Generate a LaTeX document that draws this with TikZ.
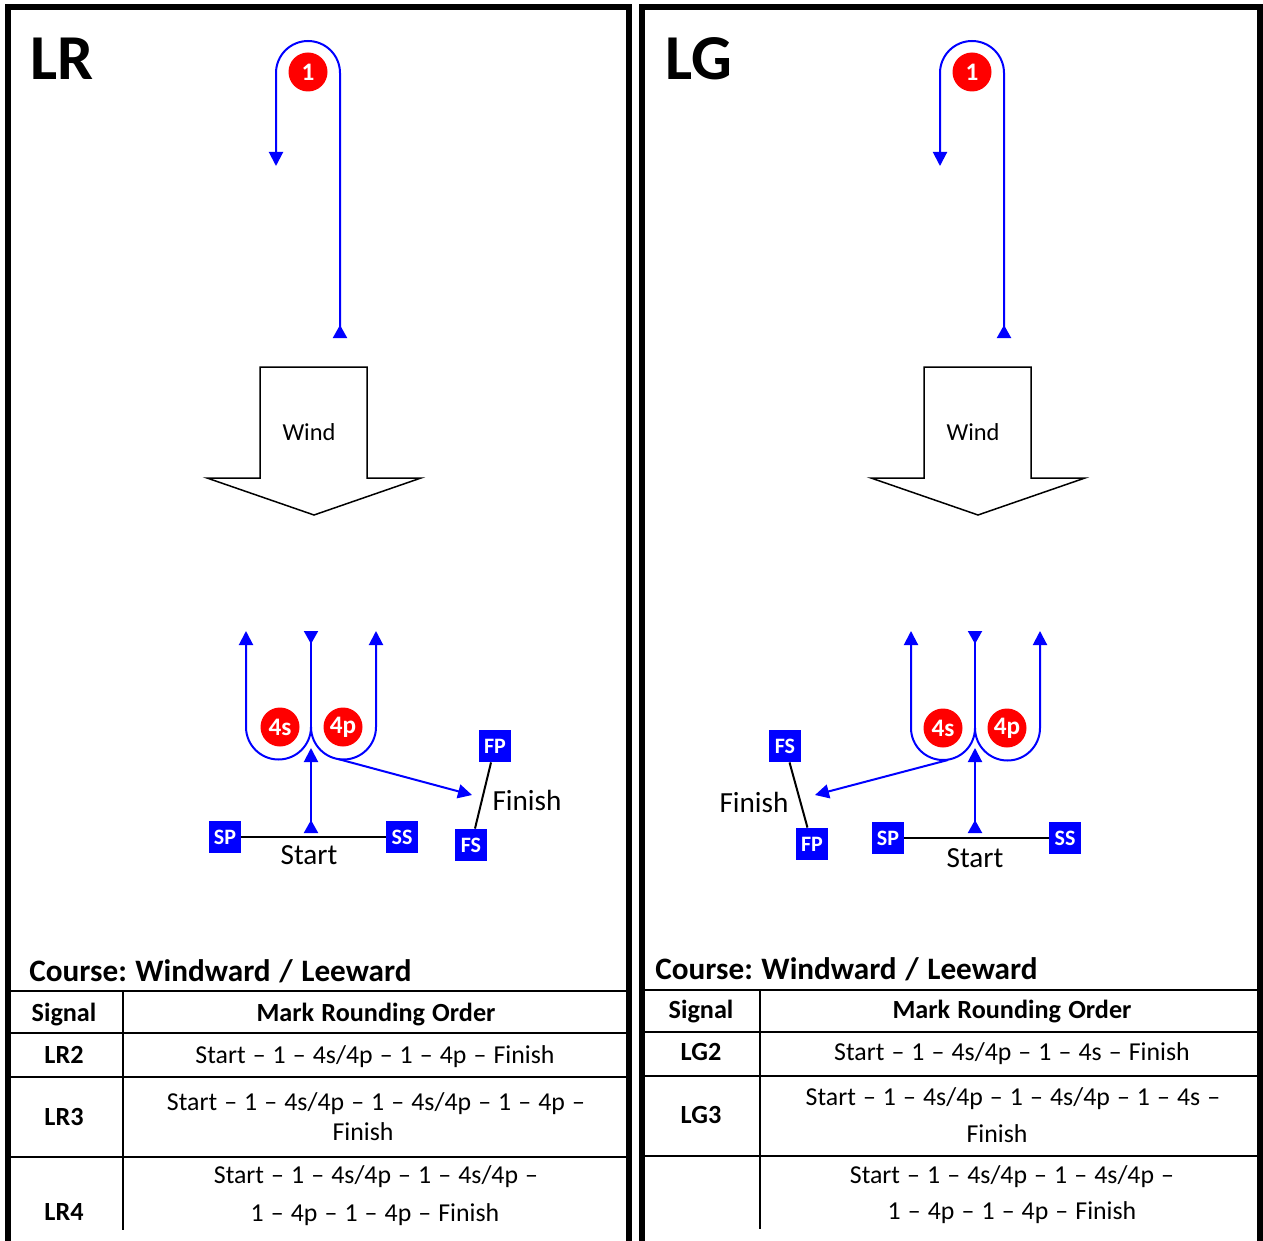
\documentclass[tikz,border=0pt]{standalone}
\usepackage{fontspec}
\setmainfont{Carlito}[WordSpace=1.22]
\frenchspacing
\usetikzlibrary{arrows.meta}
\usetikzlibrary{positioning}

\tikzset{
  buoy/.style={circle, fill=red, text=white, inner sep=0pt, minimum size=19.5pt, font=\bfseries\fontsize{12.6}{14}\selectfont},
  flag/.style={fill=blue, text=white, inner sep=0pt, minimum size=16pt, font=\bfseries\fontsize{11}{13}\selectfont},
  course/.style={blue, line width=1pt},
  tipend/.style={arrows=-{Triangle[width=7pt,length=7pt]}},
  tipstart/.style={arrows={Triangle[reversed,width=7pt,length=6.5pt]}-},
  tipboth/.style={arrows={Triangle[reversed,width=7pt,length=6.5pt]}-{Triangle[width=7pt,length=7pt]}},
  gate/.style={black, line width=1pt},
  frame/.style={black, line width=3pt},
  rule/.style={black, line width=1pt},
  title/.style={anchor=base west, inner sep=0pt, font=\bfseries\fontsize{32}{38}\selectfont},
  coursename/.style={anchor=base west, inner sep=0pt, font=\bfseries\fontsize{15.6}{18}\selectfont},
  head/.style={anchor=base, font=\bfseries\fontsize{13.1}{15}\selectfont},
  cell/.style={anchor=base, font=\fontsize{12.9}{15}\selectfont},
  label/.style={anchor=base, font=\fontsize{14.6}{17}\selectfont},
  windlabel/.style={anchor=base, font=\fontsize{12.2}{14}\selectfont},
  windarrow/.style={black, line width=0.75pt, fill=white}
}

\begin{document}
\begin{tikzpicture}[x=0.5pt, y=-0.5pt]
				\clip (0,0) rectangle (1263,1241);
				\fill[white] (0,0) rectangle (1263,1241);
				
				% panels
				\draw[frame] (8,1260) -- (8,7) -- (629,7) -- (629,1260);
				\draw[frame] (642,1260) -- (642,7) -- (1260,7) -- (1260,1260);
				
				\node[title] (lrtitle) at (30,80) {LR};
				\node[title] (lgtitle) at (665,80) {LG};
				
				% LR course
				\node[buoy] (oneL) at (308,72) {1};
				\coordinate (oneupL) at (340,338);
				\coordinate (onednL) at (276,166);
				\draw[course, tipboth] (oneupL) -- (340,73) arc(0:-180:32) -- (onednL);
				
				\draw[windarrow] (260,367) -- (367,367) -- (367,478) -- (421,478) -- (314,515) -- (207,478) -- (260,478) -- cycle;
				\node[windlabel] (windL) at (309,440) {Wind};
				
				\node[buoy] (fourSL) at (280,727) {4s};
				\node[buoy] (fourPL) at (343,727) {4p};
				\coordinate (topL) at (311,631);
				\coordinate (forkL) at (311,727);
				\coordinate (sarrL) at (246,631);
				\coordinate (parrL) at (376,631);
				\draw[course, tipstart] (topL) -- (forkL);
				\draw[course, tipend] (forkL) arc(0:180:32.5) -- (sarrL);
				\draw[course, tipend] (forkL) arc(180:0:32.5) -- (parrL);
				
				\node[flag] (spL) at (225,837) {SP};
				\node[flag] (ssL) at (402,837) {SS};
				\node[flag] (fpL) at (495,746) {FP};
				\node[flag] (fsL) at (471,845) {FS};
				\draw[gate] (spL) -- (ssL);
				\draw[gate] (fpL) -- (fsL);
				\node[label] (startL) at (309,864) {Start};
				\node[label] (finishL) at (527,810) {Finish};
				
				\coordinate (leaveL) at (311,833);
				\coordinate (reachL) at (311,748);
				\coordinate (roundL) at (338,759);
				\coordinate (homeL) at (472,795);
				\draw[course, tipboth] (leaveL) -- (reachL);
				\draw[course, tipend] (roundL) -- (homeL);
				
				% LG course
				\node[buoy] (oneR) at (972,72) {1};
				\coordinate (oneupR) at (1004,338);
				\coordinate (onednR) at (940,166);
				\draw[course, tipboth] (oneupR) -- (1004,73) arc(0:-180:32) -- (onednR);
				
				\draw[windarrow] (924,367) -- (1031,367) -- (1031,478) -- (1085,478) -- (978,515) -- (871,478) -- (924,478) -- cycle;
				\node[windlabel] (windR) at (973,440) {Wind};
				
				\node[buoy] (fourSR) at (943,728) {4s};
				\node[buoy] (fourPR) at (1007,728) {4p};
				\coordinate (topR) at (975,631);
				\coordinate (forkR) at (975,728);
				\coordinate (sarrR) at (911,631);
				\coordinate (parrR) at (1040,631);
				\draw[course, tipstart] (topR) -- (forkR);
				\draw[course, tipend] (forkR) arc(0:180:32) -- (sarrR);
				\draw[course, tipend] (forkR) arc(180:0:32.5) -- (parrR);
				
				\node[flag] (spR) at (888,838) {SP};
				\node[flag] (ssR) at (1065,838) {SS};
				\node[flag] (fsR) at (785,746) {FS};
				\node[flag] (fpR) at (812,844) {FP};
				\draw[gate] (spR) -- (ssR);
				\draw[gate] (fsR) -- (fpR);
				\node[label] (startR) at (975,867) {Start};
				\node[label] (finishR) at (754,812) {Finish};
				
				\coordinate (leaveR) at (975,833);
				\coordinate (reachR) at (975,748);
				\coordinate (roundR) at (948,760);
				\coordinate (homeR) at (815,795);
				\draw[course, tipboth] (leaveR) -- (reachR);
				\draw[course, tipend] (roundR) -- (homeR);
				
				% LR table
				\node[coursename] (courseL) at (29,981) {Course: Windward / Leeward};
				\draw[rule] (8,991) -- (629,991);
				\draw[rule] (8,1033) -- (629,1033);
				\draw[rule] (8,1077) -- (629,1077);
				\draw[rule] (8,1157) -- (629,1157);
				\draw[rule] (123,991) -- (123,1230);
				\node[head] (sigL) at (64,1021) {Signal};
				\node[head] (mroL) at (376,1021) {Mark Rounding Order};
				\node[head] (lrtwo) at (64,1063) {LR2};
				\node[cell] (lrtwoa) at (375,1063) {Start – 1 – 4s/4p – 1 – 4p – Finish};
				\node[head] (lrthree) at (64,1125) {LR3};
				\node[cell] (lrthreea) at (376,1110) {Start – 1 – 4s/4p – 1 – 4s/4p – 1 – 4p –};
				\node[cell] (lrthreeb) at (363,1140) {Finish};
				\node[head] (lrfour) at (64,1220) {LR4};
				\node[cell] (lrfoura) at (376,1183) {Start – 1 – 4s/4p – 1 – 4s/4p –};
				\node[cell] (lrfourb) at (375,1221) {1 – 4p – 1 – 4p – Finish};
				
				% LG table
				\node[coursename] (courseR) at (655,979) {Course: Windward / Leeward};
				\draw[rule] (642,990) -- (1260,990);
				\draw[rule] (642,1032) -- (1260,1032);
				\draw[rule] (642,1076) -- (1260,1076);
				\draw[rule] (642,1156) -- (1260,1156);
				\draw[rule] (760,990) -- (760,1229);
				\node[head] (sigR) at (701,1018) {Signal};
				\node[head] (mroR) at (1012,1018) {Mark Rounding Order};
				\node[head] (lgtwo) at (701,1060) {LG2};
				\node[cell] (lgtwoa) at (1012,1060) {Start – 1 – 4s/4p – 1 – 4s – Finish};
				\node[head] (lgthree) at (701,1123) {LG3};
				\node[cell] (lgthreea) at (1013,1105) {Start – 1 – 4s/4p – 1 – 4s/4p – 1 – 4s –};
				\node[cell] (lgthreeb) at (997,1142) {Finish};
				\node[cell] (lgfoura) at (1012,1183) {Start – 1 – 4s/4p – 1 – 4s/4p –};
				\node[cell] (lgfourb) at (1012,1219) {1 – 4p – 1 – 4p – Finish};
			\end{tikzpicture}
\end{document}
